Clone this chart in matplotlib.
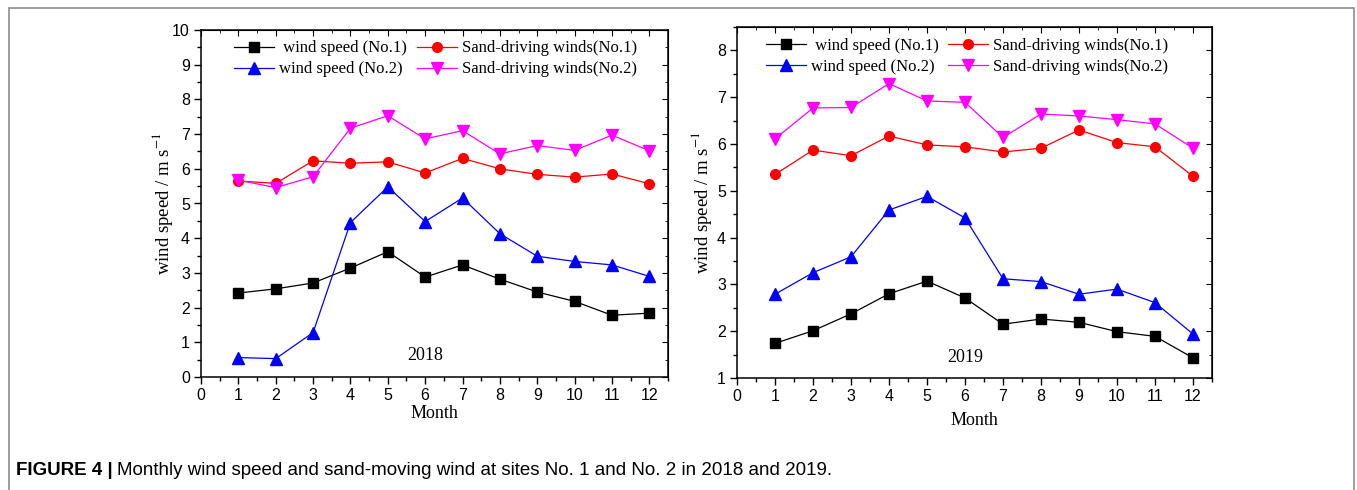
import numpy as np
import matplotlib
matplotlib.use("Agg")
import matplotlib.pyplot as plt
from matplotlib.patches import Rectangle
from matplotlib.ticker import MultipleLocator

plt.rcParams['mathtext.fontset'] = 'stix'

months = np.arange(1, 13)

# 2018
ws1_2018 = [2.42, 2.54, 2.71, 3.14, 3.61, 2.88, 3.23, 2.82, 2.45, 2.18, 1.78, 1.84]
ws2_2018 = [0.56, 0.53, 1.28, 4.45, 5.48, 4.48, 5.16, 4.13, 3.48, 3.33, 3.23, 2.90]
sd1_2018 = [5.65, 5.58, 6.23, 6.16, 6.20, 5.88, 6.30, 6.00, 5.84, 5.76, 5.85, 5.57]
sd2_2018 = [5.67, 5.46, 5.77, 7.17, 7.53, 6.86, 7.10, 6.43, 6.67, 6.53, 6.97, 6.52]

# 2019
ws1_2019 = [1.74, 2.01, 2.37, 2.80, 3.07, 2.71, 2.15, 2.26, 2.19, 1.99, 1.89, 1.43]
ws2_2019 = [2.79, 3.25, 3.59, 4.59, 4.88, 4.42, 3.12, 3.06, 2.79, 2.90, 2.61, 1.94]
sd1_2019 = [5.35, 5.87, 5.75, 6.17, 5.98, 5.94, 5.83, 5.91, 6.30, 6.03, 5.94, 5.31]
sd2_2019 = [6.11, 6.77, 6.78, 7.29, 6.92, 6.89, 6.14, 6.64, 6.60, 6.52, 6.43, 5.91]

# legend is filled column by column
labels = [' wind speed (No.1)', 'wind speed (No.2)',
          'Sand-driving winds(No.1)', 'Sand-driving winds(No.2)']

serif = 'Liberation Serif'
sans = 'Liberation Sans'

fig = plt.figure(figsize=(13.57, 4.90), dpi=100)
W, H = 1357.0, 490.0


def px_axes(x0, y0, x1, y1):
    return fig.add_axes([x0 / W, 1 - y1 / H, (x1 - x0) / W, (y1 - y0) / H])


def draw_panel(ax, ws1, ws2, sd1, sd2, ylim, year, year_y, leg_x, leg_y, xpad, ypad):
    h1, = ax.plot(months, ws1, '-s', color='black', lw=0.9, ms=6.5)
    h3, = ax.plot(months, ws2, '-^', color='blue', lw=0.9, ms=8)
    h2, = ax.plot(months, sd1, '-o', color='red', lw=0.9, ms=7)
    h4, = ax.plot(months, sd2, '-v', color='magenta', lw=0.9, ms=8)
    ax.set_xlim(0, 12.5)
    ax.set_ylim(*ylim)
    ax.xaxis.set_major_locator(MultipleLocator(1))
    ax.xaxis.set_minor_locator(MultipleLocator(0.5))
    ax.yaxis.set_major_locator(MultipleLocator(1))
    ax.yaxis.set_minor_locator(MultipleLocator(0.5))
    ax.tick_params(which='both', direction='out', top=False, right=False,
                   width=1, labelsize=11.5, pad=3)
    ax.tick_params(which='major', length=5)
    ax.tick_params(which='minor', length=3)
    for lab in ax.get_xticklabels() + ax.get_yticklabels():
        lab.set_fontfamily(sans)
    for sp in ax.spines.values():
        sp.set_linewidth(1.1)
    # inward ticks on the opposite spines
    sx = ax.secondary_xaxis('top')
    sx.xaxis.set_major_locator(MultipleLocator(1))
    sx.xaxis.set_minor_locator(MultipleLocator(0.5))
    sx.tick_params(which='both', direction='in', labeltop=False)
    sx.tick_params(which='major', length=4)
    sx.tick_params(which='minor', length=2.5)
    sy = ax.secondary_yaxis('right')
    sy.yaxis.set_major_locator(MultipleLocator(1))
    sy.yaxis.set_minor_locator(MultipleLocator(0.5))
    sy.tick_params(which='both', direction='in', labelright=False)
    sy.tick_params(which='major', length=4)
    sy.tick_params(which='minor', length=2.5)

    ax.set_xlabel('Month', fontfamily=serif, fontsize=13, labelpad=xpad)
    ax.set_ylabel(r'wind speed / m s$^{-1}$', fontfamily=serif, fontsize=13.5,
                  labelpad=ypad)
    ax.text(6, year_y, year, ha='center', va='center', fontfamily=serif,
            fontsize=13)
    ax.legend([h1, h3, h2, h4], labels, ncol=2, loc='upper left',
              bbox_to_anchor=(leg_x, leg_y), frameon=False,
              prop={'family': serif, 'size': 12}, handlelength=2.4,
              handletextpad=0.3, columnspacing=0.6, labelspacing=0.3,
              borderaxespad=0, borderpad=0)


ax1 = px_axes(201, 30, 668, 377)
draw_panel(ax1, ws1_2018, ws2_2018, sd1_2018, sd2_2018, (0, 10), '2018', 0.63,
           0.07, 0.97, 1.5, -2)

ax2 = px_axes(737, 27, 1212, 378)
draw_panel(ax2, ws1_2019, ws2_2019, sd1_2019, sd2_2019, (1, 8.5), '2019', 1.43,
           0.06, 0.97, 6, 2)

# outer frame
fig.patches.append(Rectangle((9 / W, -0.01), (1354 - 9) / W, 1 - 8 / H + 0.01,
                             transform=fig.transFigure, fill=False,
                             edgecolor='#8c8c8c', lw=1.2))

t1 = fig.text(16 / W, 1 - 470 / H, 'FIGURE 4 |', fontfamily=sans,
              fontweight='bold', fontsize=13.5, va='center', ha='left')
fig.canvas.draw()
bb = t1.get_window_extent()
fig.text((bb.x1 + 4) / W, 1 - 470 / H,
         'Monthly wind speed and sand-moving wind at sites No. 1 and No. 2 in 2018 and 2019.',
         fontfamily=sans, fontsize=13.5, va='center', ha='left')

fig.savefig('out.png', dpi=100)
